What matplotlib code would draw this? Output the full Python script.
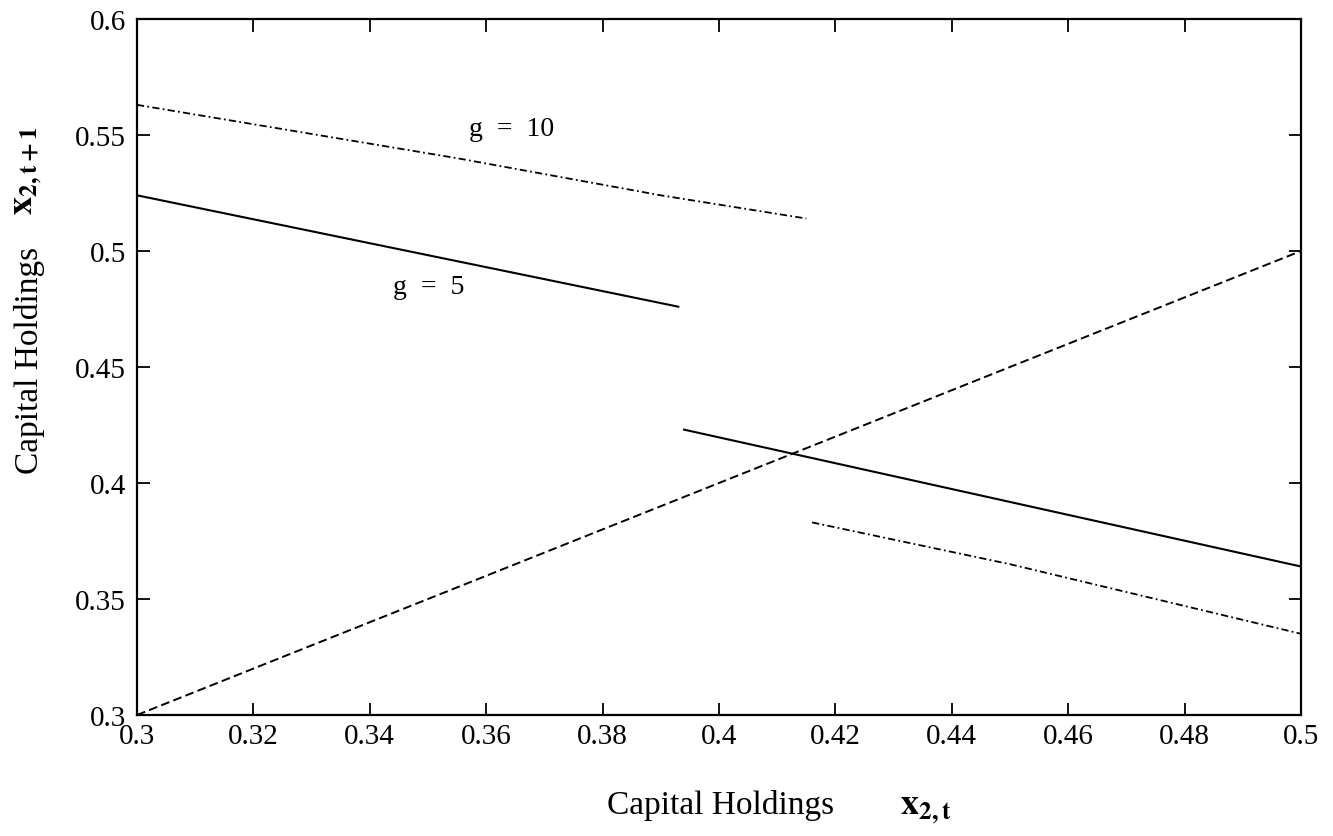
#import------------------------
import matplotlib
matplotlib.use("Agg")
import matplotlib.pyplot as plt
import numpy as np

plt.rcParams['font.family'] = ['Liberation Serif', 'DejaVu Serif']
plt.rcParams['mathtext.fontset'] = 'stix'

#data-------------------------------------------------
# 45 degree line x_{2,t+1} = x_{2,t}
diag_x = [0.30, 0.40, 0.50]
diag_y = [0.30, 0.40, 0.50]

# g = 5 (solid), two branches
g5_hi_x = [0.300, 0.393]
g5_hi_y = [0.524, 0.476]
g5_lo_x = [0.394, 0.500]
g5_lo_y = [0.423, 0.364]

# g = 10 (dash-dot), two branches
g10_hi_x = [0.300, 0.355, 0.390, 0.415]
g10_hi_y = [0.563, 0.540, 0.524, 0.514]
g10_lo_x = [0.416, 0.450, 0.500]
g10_lo_y = [0.383, 0.365, 0.335]

xticks = [0.3, 0.32, 0.34, 0.36, 0.38, 0.4, 0.42, 0.44, 0.46, 0.48, 0.5]
yticks = [0.3, 0.35, 0.4, 0.45, 0.5, 0.55, 0.6]

#figure and axes---------------------------
fig = plt.figure(figsize=(13.33, 8.37), dpi=100)
ax = fig.add_axes([137/1333, 121/837, 1164/1333, 696/837])

#plotting lines---------------------------
ax.plot(diag_x, diag_y, color='black', lw=1.4, linestyle=(0, (4.5, 2.2)))
ax.plot(g5_hi_x, g5_hi_y, color='black', lw=1.5)
ax.plot(g5_lo_x, g5_lo_y, color='black', lw=1.5)
dashdot = (0, (4.0, 1.8, 1.0, 1.8))
ax.plot(g10_hi_x, g10_hi_y, color='black', lw=1.3, linestyle=dashdot)
ax.plot(g10_lo_x, g10_lo_y, color='black', lw=1.3, linestyle=dashdot)

#annotation of curves----------------------------------------
ax.text(0.357, 0.553, "g  =  10", fontsize=20, va='center', ha='left')
ax.text(0.344, 0.4845, "g  =  5", fontsize=20, va='center', ha='left')

#axes----------------------------------------------------
ax.set_xlim(0.3, 0.5)
ax.set_ylim(0.3, 0.6)
ax.set_xticks(xticks)
ax.set_yticks(yticks)
ax.set_xticklabels([f"{v:g}" for v in xticks])
ax.set_yticklabels([f"{v:g}" for v in yticks])
ax.tick_params(direction='in', length=9, width=1.3, labelsize=21,
               top=True, right=True)
ax.tick_params(axis='x', pad=6)
ax.tick_params(axis='y', pad=8)
for s in ax.spines.values():
    s.set_linewidth(1.6)

#axis labels as figure text-------------------------------
fig.text(721/1333, 23/837, "Capital Holdings", fontsize=24,
         ha='center', va='baseline')
fig.text(900/1333, 23/837, r"$\mathbf{x_{2,t}}$", fontsize=26,
         ha='left', va='baseline')
fig.text(30/1333, 1 - 360/837, "Capital Holdings", fontsize=24,
         rotation=90, ha='center', va='center')
fig.text(28/1333, 1 - 170/837, r"$\mathbf{x_{2,t+1}}$", fontsize=26,
         rotation=90, ha='center', va='center')

fig.savefig("out.png", dpi=100)
